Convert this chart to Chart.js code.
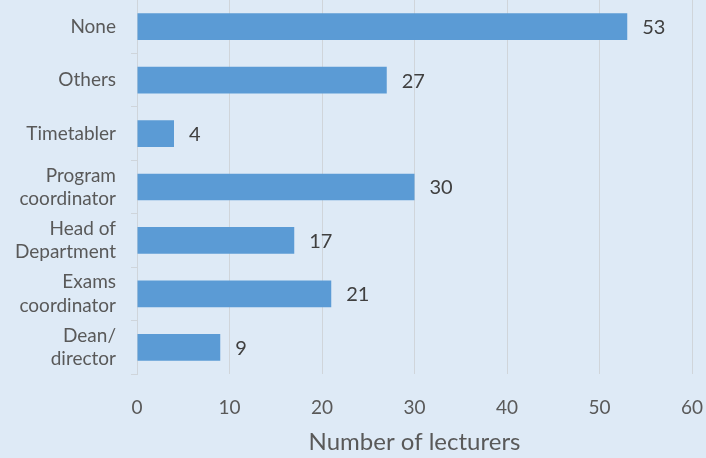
<!DOCTYPE html>
<html lang="en">
<head>
  <meta charset="UTF-8">
  <script src="https://cdn.jsdelivr.net/npm/chart.js"></script>
  <title>Lecturers</title>
  <style>
    html, body{margin: 0; padding: 0; background: #deeaf6;}
    #wrap{width: 706px; height: 458px; position: relative;}
  </style>
</head>
<body>
  <div id="wrap">
    <canvas id="myChart"></canvas>
  </div>
  <script>
    // data
    const roles = [
      "None",
      "Others",
      "Timetabler",
      ["Program", "coordinator"],
      ["Head of", "Department"],
      ["Exams", "coordinator"],
      ["Dean/", "director"]
    ];
    const lecturers = [53, 27, 4, 30, 17, 21, 9];
    const xTicks = [0, 10, 20, 30, 40, 50, 60];

    const fontFam = "Lato, 'Open Sans', sans-serif";
    const txtColor = "#595959";

    // value labels at end of bars
    const barLabels = {
      id: "barLabels",
      afterDatasetsDraw(chart){
        const ctx = chart.ctx;
        const meta = chart.getDatasetMeta(0);
        ctx.save();
        ctx.font = "20px " + fontFam;
        ctx.fillStyle = "#404040";
        ctx.textBaseline = "middle";
        ctx.textAlign = "left";
        meta.data.forEach(function(bar, i){
          ctx.fillText(lecturers[i], bar.x + 15, bar.y + 1);
        });
        ctx.restore();
      }
    };

    new Chart(document.getElementById("myChart"), {
      type: "bar",
      data: {
        labels: roles,
        datasets: [{
          data: lecturers,
          backgroundColor: "#5b9bd5",
          barPercentage: 0.5,
          categoryPercentage: 1
        }]
      },
      options: {
        indexAxis: "y",
        responsive: true,
        maintainAspectRatio: false,
        animation: false,
        layout: {padding: {top: 0, right: 14, left: 0, bottom: 1}},
        plugins: {
          legend: {display: false},
          tooltip: {enabled: false}
        },
        scales: {
          x: {
            min: 0,
            max: 60,
            afterBuildTicks: function(axis){
              axis.ticks = xTicks.map(v => ({value: v}));
            },
            afterFit: function(axis){
              axis.paddingLeft = 0;
              axis.paddingRight = 0;
              axis.height = 83;
            },
            grid: {color: "#d0d5da", lineWidth: 1, drawTicks: false},
            border: {display: false},
            ticks: {color: txtColor, font: {size: 19, family: fontFam}, padding: 22},
            title: {
              display: true,
              text: "Number of lecturers",
              color: txtColor,
              font: {size: 24, family: fontFam},
              padding: {top: 0, bottom: 0}
            }
          },
          y: {
            afterFit: function(axis){
              axis.width = 137;
              axis.paddingTop = 0;
              axis.paddingBottom = 0;
            },
            grid: {drawOnChartArea: false, color: "#cfd5db", tickLength: 6, offset: true},
            border: {display: true, color: "#cfd5db"},
            ticks: {color: txtColor, font: {size: 19, family: fontFam, lineHeight: 1.22}, padding: 15}
          }
        }
      },
      plugins: [barLabels]
    });
  </script>
</body>
</html>
